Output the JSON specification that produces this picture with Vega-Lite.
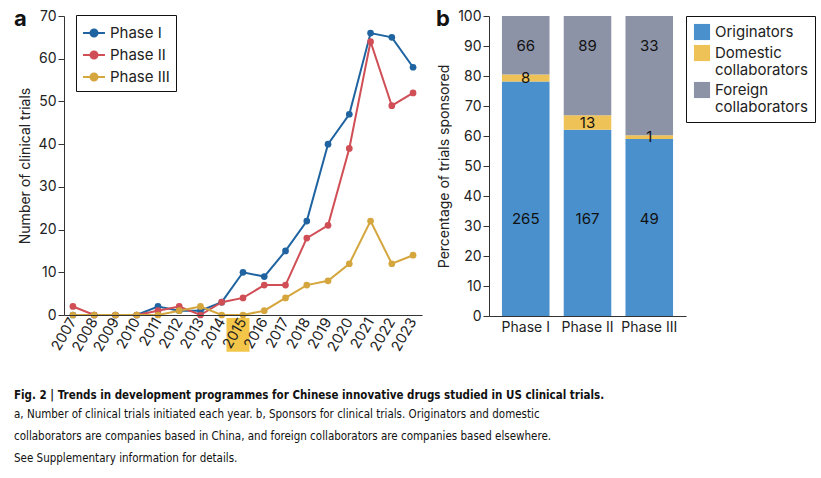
{
  "$schema": "https://vega.github.io/schema/vega-lite/v6.json",
  "background": "white",
  "padding": {"left": 14, "top": 8, "right": 5, "bottom": 5},
  "config": {
    "font": "Inter",
    "view": {"stroke": null},
    "axis": {"labelFont": "Inter", "labelFontSize": 14, "labelColor": "#222", "titleFont": "Inter", "titleFontSize": 14, "titleFontWeight": "normal", "titleColor": "#222", "domainColor": "#333", "tickColor": "#333", "grid": false, "labelOverlap": false},
    "legend": {"labelFont": "Inter", "labelFontSize": 15, "labelColor": "#222"}
  },
  "title": {
    "text": "Fig. 2 | Trends in development programmes for Chinese innovative drugs studied in US clinical trials.",
    "subtitle": ["a, Number of clinical trials initiated each year. b, Sponsors for clinical trials. Originators and domestic", "collaborators are companies based in China, and foreign collaborators are companies based elsewhere.", "See Supplementary information for details."],
    "orient": "bottom", "anchor": "start", "frame": "bounds",
    "font": "DejaVu Sans Condensed", "fontSize": 11.5, "fontWeight": "bold", "color": "#111",
    "subtitleFont": "DejaVu Sans Condensed", "subtitleFontSize": 11.5, "subtitleColor": "#111", "subtitleLineHeight": 22, "subtitlePadding": 8, "offset": 36
  },
  "datasets": {
    "trials": [
      {"year": "2007", "phase": "Phase I", "count": 0}, {"year": "2008", "phase": "Phase I", "count": 0}, {"year": "2009", "phase": "Phase I", "count": 0}, {"year": "2010", "phase": "Phase I", "count": 0}, {"year": "2011", "phase": "Phase I", "count": 2}, {"year": "2012", "phase": "Phase I", "count": 1}, {"year": "2013", "phase": "Phase I", "count": 1}, {"year": "2014", "phase": "Phase I", "count": 3}, {"year": "2015", "phase": "Phase I", "count": 10}, {"year": "2016", "phase": "Phase I", "count": 9}, {"year": "2017", "phase": "Phase I", "count": 15}, {"year": "2018", "phase": "Phase I", "count": 22}, {"year": "2019", "phase": "Phase I", "count": 40}, {"year": "2020", "phase": "Phase I", "count": 47}, {"year": "2021", "phase": "Phase I", "count": 66}, {"year": "2022", "phase": "Phase I", "count": 65}, {"year": "2023", "phase": "Phase I", "count": 58},
      {"year": "2007", "phase": "Phase II", "count": 2}, {"year": "2008", "phase": "Phase II", "count": 0}, {"year": "2009", "phase": "Phase II", "count": 0}, {"year": "2010", "phase": "Phase II", "count": 0}, {"year": "2011", "phase": "Phase II", "count": 1}, {"year": "2012", "phase": "Phase II", "count": 2}, {"year": "2013", "phase": "Phase II", "count": 0}, {"year": "2014", "phase": "Phase II", "count": 3}, {"year": "2015", "phase": "Phase II", "count": 4}, {"year": "2016", "phase": "Phase II", "count": 7}, {"year": "2017", "phase": "Phase II", "count": 7}, {"year": "2018", "phase": "Phase II", "count": 18}, {"year": "2019", "phase": "Phase II", "count": 21}, {"year": "2020", "phase": "Phase II", "count": 39}, {"year": "2021", "phase": "Phase II", "count": 64}, {"year": "2022", "phase": "Phase II", "count": 49}, {"year": "2023", "phase": "Phase II", "count": 52},
      {"year": "2007", "phase": "Phase III", "count": 0}, {"year": "2008", "phase": "Phase III", "count": 0}, {"year": "2009", "phase": "Phase III", "count": 0}, {"year": "2010", "phase": "Phase III", "count": 0}, {"year": "2011", "phase": "Phase III", "count": 0}, {"year": "2012", "phase": "Phase III", "count": 1}, {"year": "2013", "phase": "Phase III", "count": 2}, {"year": "2014", "phase": "Phase III", "count": 0}, {"year": "2015", "phase": "Phase III", "count": 0}, {"year": "2016", "phase": "Phase III", "count": 1}, {"year": "2017", "phase": "Phase III", "count": 4}, {"year": "2018", "phase": "Phase III", "count": 7}, {"year": "2019", "phase": "Phase III", "count": 8}, {"year": "2020", "phase": "Phase III", "count": 12}, {"year": "2021", "phase": "Phase III", "count": 22}, {"year": "2022", "phase": "Phase III", "count": 12}, {"year": "2023", "phase": "Phase III", "count": 14}
    ],
    "sponsors": [
      {"phase": "Phase I", "sponsor": "Originators", "n": 265},
      {"phase": "Phase I", "sponsor": "Domestic collaborators", "n": 8},
      {"phase": "Phase I", "sponsor": "Foreign collaborators", "n": 66},
      {"phase": "Phase II", "sponsor": "Originators", "n": 167},
      {"phase": "Phase II", "sponsor": "Domestic collaborators", "n": 13},
      {"phase": "Phase II", "sponsor": "Foreign collaborators", "n": 89},
      {"phase": "Phase III", "sponsor": "Originators", "n": 49},
      {"phase": "Phase III", "sponsor": "Domestic collaborators", "n": 1},
      {"phase": "Phase III", "sponsor": "Foreign collaborators", "n": 33}
    ],
    "highlight": [{"year": "2015"}]
  },
  "resolve": {"scale": {"color": "independent"}, "legend": {"color": "independent"}},
  "spacing": 14,
  "hconcat": [
    {
      "width": 358, "height": 299,
      "title": {"text": "a", "anchor": "start", "frame": "group", "font": "Inter", "fontSize": 22, "fontWeight": "bold", "color": "#111", "dx": -50, "dy": 22, "offset": 0},
      "encoding": {
        "x": {"field": "year", "type": "ordinal", "scale": {"type": "point", "padding": 0.42}, "axis": {"title": null, "labelAngle": -60, "labelAlign": "right", "labelBaseline": "middle", "ticks": false, "labelPadding": 4, "labelFontSize": 14.5, "zindex": 1}}
      },
      "layer": [
        {
          "data": {"name": "highlight"},
          "mark": {"type": "bar", "color": "#f3c548", "width": 23, "xOffset": -5},
          "encoding": {"y": {"datum": -0.7, "type": "quantitative"}, "y2": {"datum": -8.6}}
        },
        {
          "data": {"name": "trials"},
          "encoding": {
            "y": {"field": "count", "type": "quantitative", "scale": {"domain": [0, 70]}, "axis": {"title": "Number of clinical trials", "values": [0, 10, 20, 30, 40, 50, 60, 70], "tickSize": 6, "titlePadding": 6}},
            "color": {"field": "phase", "type": "nominal", "scale": {"domain": ["Phase I", "Phase II", "Phase III"], "range": ["#1f64a0", "#d04e55", "#d5a63e"]},
              "legend": {"title": null, "orient": "none", "legendX": 12, "legendY": -1, "strokeColor": "#111", "padding": 6, "symbolType": "M-1,0L-0.32,0M0.32,0L1,0M0.32,0A0.32,0.32,0,1,1,-0.32,0A0.32,0.32,0,1,1,0.32,0Z", "symbolSize": 480, "symbolStrokeWidth": 2, "rowPadding": 2, "labelFontSize": 15}}
          },
          "layer": [
            {"mark": {"type": "line", "strokeWidth": 2}},
            {"mark": {"type": "point", "filled": true, "size": 45, "opacity": 1}}
          ]
        }
      ]
    },
    {
      "width": 197, "height": 300,
      "title": {"text": "b", "anchor": "start", "frame": "group", "font": "Inter", "fontSize": 22, "fontWeight": "bold", "color": "#111", "dx": -53, "dy": 22, "offset": 0},
      "data": {"name": "sponsors"},
      "transform": [{"window": [{"op": "row_number", "as": "idx"}]}],
      "encoding": {
        "x": {"field": "phase", "type": "nominal", "sort": null, "scale": {"paddingInner": 0.23, "paddingOuter": 0.21}, "axis": {"title": null, "labelAngle": 0, "ticks": false, "labelFontSize": 14, "labelPadding": 4}}
      },
      "layer": [
        {
          "mark": {"type": "bar"},
          "encoding": {
            "y": {"field": "n", "type": "quantitative", "stack": "normalize", "scale": {"domain": [0, 1]}, "axis": {"title": "Percentage of trials sponsored", "values": [0, 0.1, 0.2, 0.3, 0.4, 0.5, 0.6, 0.7, 0.8, 0.9, 1], "labelExpr": "round(datum.value*100)", "tickSize": 6, "titlePadding": 6}},
            "order": {"field": "idx", "type": "quantitative"},
            "color": {"field": "sponsor", "type": "nominal", "scale": {"domain": ["Originators", "Domestic collaborators", "Foreign collaborators"], "range": ["#4a90cc", "#eec257", "#8d93a7"]},
              "legend": {"title": null, "orient": "right", "offset": 0, "strokeColor": "#111", "padding": 7, "symbolType": "square", "symbolSize": 260, "labelFontSize": 15, "labelExpr": "split(datum.label, ' ')", "rowPadding": 3}}
          }
        },
        {
          "mark": {"type": "text", "fontSize": 15, "color": "#111"},
          "encoding": {
            "y": {"field": "n", "type": "quantitative", "stack": "normalize", "bandPosition": 0.5, "axis": {"title": "Percentage of trials sponsored", "values": [0, 0.1, 0.2, 0.3, 0.4, 0.5, 0.6, 0.7, 0.8, 0.9, 1], "labelExpr": "round(datum.value*100)", "tickSize": 6, "titlePadding": 6}},
            "detail": {"field": "sponsor"},
            "order": {"field": "idx", "type": "quantitative"},
            "text": {"condition": {"test": "datum.sponsor == 'Domestic collaborators'", "field": "n"}, "value": ""}
          }
        },
        {
          "transform": [{"filter": "datum.sponsor == 'Foreign collaborators'"}],
          "mark": {"type": "text", "fontSize": 15, "color": "#111"},
          "encoding": {"y": {"datum": 0.9, "type": "quantitative", "axis": {"title": "Percentage of trials sponsored", "values": [0, 0.1, 0.2, 0.3, 0.4, 0.5, 0.6, 0.7, 0.8, 0.9, 1], "labelExpr": "round(datum.value*100)", "tickSize": 6, "titlePadding": 6}}, "text": {"field": "n"}}
        },
        {
          "transform": [{"filter": "datum.sponsor == 'Originators'"}],
          "mark": {"type": "text", "fontSize": 15, "color": "#111"},
          "encoding": {"y": {"datum": 0.325, "type": "quantitative", "axis": {"title": "Percentage of trials sponsored", "values": [0, 0.1, 0.2, 0.3, 0.4, 0.5, 0.6, 0.7, 0.8, 0.9, 1], "labelExpr": "round(datum.value*100)", "tickSize": 6, "titlePadding": 6}}, "text": {"field": "n"}}
        }
      ]
    }
  ]
}
